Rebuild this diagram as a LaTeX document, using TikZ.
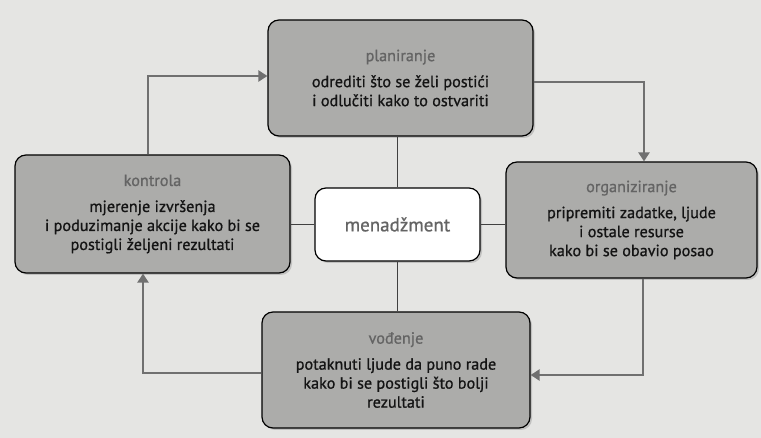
\documentclass[tikz,border=0pt]{standalone}
\usepackage{fontspec}
\setmainfont{PT Sans}
\newfontfamily\boxfont{PT Sans}[FakeBold=0.9]
\usetikzlibrary{shadows, arrows.meta}
\definecolor{paper}{RGB}{229,229,227}
\definecolor{boxgray}{RGB}{172,172,170}
\definecolor{linegray}{RGB}{112,112,112}
\definecolor{titlegray}{RGB}{100,100,100}
\definecolor{textblack}{RGB}{20,20,20}
\tikzset{
  stage/.style={draw=black, line width=1.2pt, fill=boxgray, rounded corners=11pt,
    align=center, inner sep=0pt, text=textblack,
    font=\boxfont\fontsize{16.2}{19}\selectfont,
    drop shadow={shadow xshift=2pt, shadow yshift=-2pt, opacity=0.35}},
  hub/.style={stage, fill=white, font=\boxfont\fontsize{19}{22}\selectfont},
  spoke/.style={draw=black!75, line width=1.6pt},
  cycle/.style={draw=linegray, line width=2.6pt, -{Triangle[width=11pt,length=9pt]}}
}
\newcommand{\stagetitle}[1]{{\color{titlegray}#1}\\[7pt]}
\begin{document}
\begin{tikzpicture}[x=1pt,y=-1pt]
\fill[paper] (0,0) rectangle (761,438);
\useasboundingbox (0,0) rectangle (761,438);

\node[stage, minimum width=265pt, minimum height=116pt] (plan) at (400.5,78)
  {\stagetitle{planiranje}odrediti što se želi postići\\i odlučiti kako to ostvariti};
\node[stage, minimum width=275pt, minimum height=118pt] (kon) at (152.5,214)
  {\stagetitle{kontrola}mjerenje izvršenja\\i poduzimanje akcije kako bi se\\postigli željeni rezultati};
\node[stage, minimum width=251pt, minimum height=116pt] (org) at (631.5,220)
  {\stagetitle{organiziranje}pripremiti zadatke, ljude\\i ostale resurse\\kako bi se obavio posao};
\node[stage, minimum width=268pt, minimum height=116pt] (vod) at (396,370)
  {\stagetitle{vođenje}potaknuti ljude da puno rade\\kako bi se postigli što bolji\\rezultati};
\node[hub, minimum width=165pt, minimum height=73pt] (men) at (397.5,224.5)
  {\color{titlegray}menadžment};

\draw[spoke] (men.north) -- (men.north |- plan.south);
\draw[spoke] (men.south) -- (men.south |- vod.north);
\draw[spoke] (men.west) -- (men.west -| kon.east);
\draw[spoke] (men.east) -- (men.east -| org.west);

\draw[cycle] ([yshift=-4pt]plan.east) -| ([xshift=12.5pt]org.north);
\draw[cycle] ([xshift=11.5pt]org.south) |- ([yshift=-5pt]vod.east);
\draw[cycle] ([yshift=-3pt]vod.west) -| ([xshift=-9.5pt]kon.south);
\draw[cycle] ([xshift=-4.5pt]kon.north) |- ([yshift=2pt]plan.west);
\end{tikzpicture}
\end{document}
